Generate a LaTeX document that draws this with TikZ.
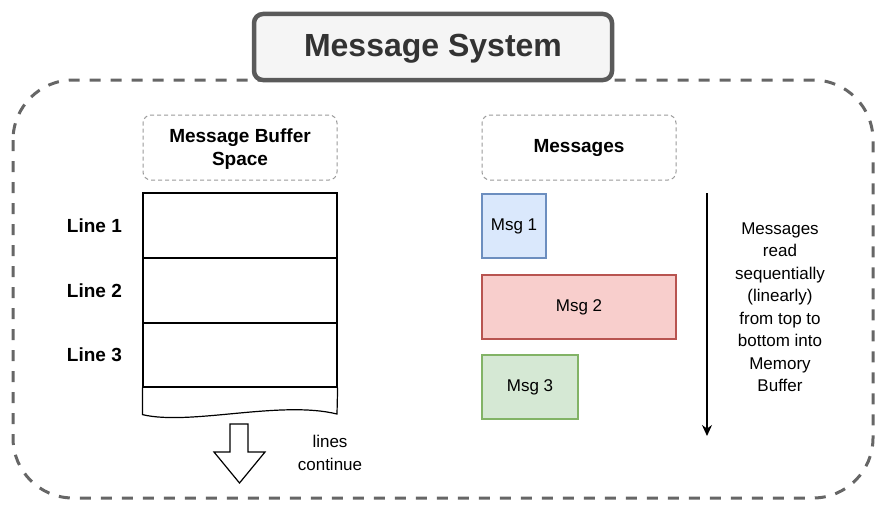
\documentclass[tikz,border=0pt]{standalone}
\usepackage{fontspec}
\setmainfont{Liberation Sans}
\usepackage{xcolor}
\usetikzlibrary{positioning, arrows.meta}

\definecolor{framegray}{HTML}{666666}
\definecolor{titlegray}{HTML}{5A5A5A}
\definecolor{titlefill}{HTML}{F5F5F5}
\definecolor{labelgray}{HTML}{999999}
\definecolor{bluefill}{HTML}{DAE8FC}
\definecolor{bluedraw}{HTML}{6C8EBF}
\definecolor{redfill}{HTML}{F8CECC}
\definecolor{reddraw}{HTML}{B85450}
\definecolor{greenfill}{HTML}{D5E8D4}
\definecolor{greendraw}{HTML}{82B366}

\begin{document}
\begin{tikzpicture}[x=1pt, y=-1pt, >={Stealth[length=11pt, width=10pt]},
    txt/.style={font=\fontsize{17}{22.5}\selectfont, align=center},
    bold/.style={font=\fontsize{19}{23}\selectfont\bfseries, align=center},
    labelbox/.style={bold, draw=labelgray, dashed, dash pattern=on 4pt off 3pt, line width=1pt, rounded corners=8pt, minimum width=194pt, minimum height=65pt},
    row/.style={draw, line width=1.2pt, minimum width=194pt, minimum height=65pt, inner sep=0pt},
    msg/.style={txt, line width=1.2pt, minimum height=64pt, inner sep=0pt}]
    \useasboundingbox (0,0) rectangle (885,511);

    % outer frame
    \draw[framegray, line width=3pt, dash pattern=on 11pt off 10pt, rounded corners=60pt] (13,80) rectangle (873,498);

    \node[draw=titlegray, fill=titlefill, line width=4.5pt, rounded corners=9pt, minimum width=358pt, minimum height=66pt] (title) at (433,47) {};
    \node[font=\fontsize{32}{36}\selectfont\bfseries, text=black!80] (titletext) at (433,49) {Message System};

    \node[labelbox, text depth=0pt] (bufhead) at (240,147.5) {Message Buffer\\Space};
    \node[labelbox] (msghead) at (579,147.5) {Messages};

    % buffer lines
    \node[row] (row1) at (240,225.5) {};
    \node[row] (row2) at (240,290.5) {};
    \node[row, minimum height=64pt] (row3) at (240,355) {};
    \draw[line width=1.2pt] (row3.south west) -- ++(0,27) .. controls (190,426) and (280,400) .. (337,414) -- (row3.south east);

    \node[bold, left=17pt of row1] (l1) {Line 1};
    \node[bold, left=17pt of row2] (l2) {Line 2};
    \node[bold, left=17pt of row3] (l3) {Line 3};

    % lines continue
    \draw[line width=1.2pt] (230,424) -- (248,424) -- (248,452) -- (265,452) -- (239.5,483) -- (214,452) -- (230,452) -- cycle;
    \node[txt] (cont) at (330,453) {lines\\continue};

    % messages
    \node[msg, fill=bluefill, draw=bluedraw, minimum width=64pt] (msg1) at (514,226) {Msg 1};
    \node[msg, fill=redfill, draw=reddraw, minimum width=194pt] (msg2) at (579,307) {Msg 2};
    \node[msg, fill=greenfill, draw=greendraw, minimum width=96pt] (msg3) at (530,387) {Msg 3};

    \coordinate (rtop) at (707,193);
    \coordinate (rbot) at (707,436);
    \draw[->, line width=1.3pt] (rtop) -- (rbot);
    \node[txt] (readnote) at (780,307) {Messages\\read\\sequentially\\(linearly)\\from top to\\bottom into\\Memory\\Buffer};
\end{tikzpicture}
\end{document}
